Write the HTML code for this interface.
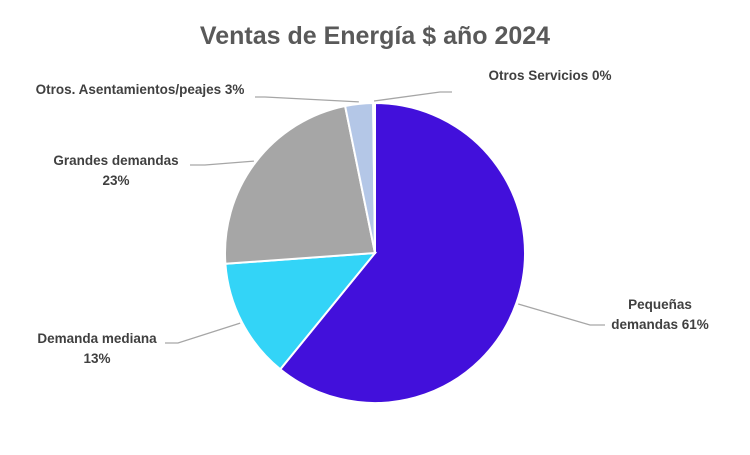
<!DOCTYPE html>
<html><head><meta charset="utf-8"><style>
body{margin:0;background:#fff;}
svg text{font-family:"Liberation Sans",Arial,sans-serif;}
</style></head><body>
<svg id="c" width="750" height="450">
<rect width="750" height="450" fill="#fff"/>
<text x="375" y="44" text-anchor="middle" font-size="25" font-weight="bold" fill="#595959">Ventas de Energía $ año 2024</text>
<g id="slices"></g>
<g id="labels"></g>
</svg>
<script>
const categories = ["Pequeñas demandas", "Demanda mediana", "Grandes demandas", "Otros. Asentamientos/peajes", "Otros Servicios"];
const values = [61, 13, 23, 3, 0.2];
const percentLabels = ["61%", "13%", "23%", "3%", "0%"];
const colors = ["#4210DB", "#33D4F7", "#A6A6A6", "#B4C7E7", "#4472C4"];
const cx = 375, cy = 253, r = 150;
const NS = "http://www.w3.org/2000/svg";
const total = values.reduce((a, b) => a + b, 0);
const sg = document.getElementById('slices');
let a0 = 0;
const mids = [];
function pt(a, rr) { return [cx + rr * Math.sin(a), cy - rr * Math.cos(a)]; }
values.forEach((v, i) => {
  const a1 = a0 + v / total * 2 * Math.PI;
  const p0 = pt(a0, r), p1 = pt(a1, r);
  const large = (a1 - a0) > Math.PI ? 1 : 0;
  const p = document.createElementNS(NS, 'path');
  p.setAttribute('d', `M${cx},${cy} L${p0[0]},${p0[1]} A${r},${r} 0 ${large} 1 ${p1[0]},${p1[1]} Z`);
  p.setAttribute('fill', colors[i]);
  p.setAttribute('stroke', '#fff');
  p.setAttribute('stroke-width', '2');
  
  
  sg.appendChild(p);
  mids.push((a0 + a1) / 2);
  a0 = a1;
});
// label layout (positions of text boxes)
const lg = document.getElementById('labels');
const layout = [
  {lines: [categories[0].split(' ')[0], categories[0].split(' ')[1] + ' ' + percentLabels[0]], x: 660, y: 309, anchor: 'middle', end: [590, 325], end2: [605, 325]},
  {lines: [categories[1], percentLabels[1]], x: 97, y: 343, anchor: 'middle', end: [178, 343], end2: [165, 343]},
  {lines: [categories[2], percentLabels[2]], x: 116, y: 165, anchor: 'middle', end: [205, 165], end2: [190, 165]},
  {lines: [categories[3] + ' ' + percentLabels[3]], x: 140, y: 94, anchor: 'middle', end: [265, 97], end2: [255, 97]},
  {lines: [categories[4] + ' ' + percentLabels[4]], x: 550, y: 80, anchor: 'middle', end: [440, 92], end2: [452, 92]}
];
layout.forEach((L, i) => {
  const s = pt(mids[i], r + 2);
  const pl = document.createElementNS(NS, 'polyline');
  pl.setAttribute('points', `${s[0]},${s[1]} ${L.end[0]},${L.end[1]} ${L.end2[0]},${L.end2[1]}`);
  pl.setAttribute('fill', 'none');
  pl.setAttribute('stroke', '#A6A6A6');
  pl.setAttribute('stroke-width', '1.3');
  
  
  lg.appendChild(pl);
  L.lines.forEach((t, j) => {
    const tx = document.createElementNS(NS, 'text');
    tx.setAttribute('x', L.x);
    tx.setAttribute('y', L.y + j * 20);
    tx.setAttribute('text-anchor', L.anchor);
    tx.setAttribute('font-size', '13.5');
    tx.setAttribute('font-weight', 'bold');
    tx.setAttribute('fill', '#404040');
    
    
    tx.textContent = t;
    lg.appendChild(tx);
  });
});
</script>
</body></html>
